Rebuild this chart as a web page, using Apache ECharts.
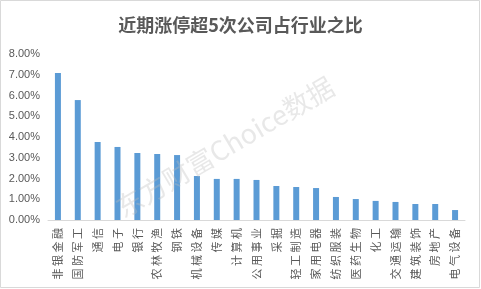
<!DOCTYPE html>
<html><head><meta charset="utf-8">
<script src="https://cdn.jsdelivr.net/npm/echarts@6/dist/echarts.min.js"></script>
<style>html,body{margin:0;padding:0;background:#fff}#c{width:481px;height:289px}</style>
</head><body><div id="c"></div>
<script>
const titleText = '近期涨停超5次公司占行业之比';
const categories = ['非银金融','国防军工','通信','电子','银行','农林牧渔','钢铁','机械设备','传媒','计算机','公用事业','采掘','轻工制造','家用电器','纺织服装','医药生物','化工','交通运输','建筑装饰','房地产','电气设备'];
const values = [7.08,5.78,3.76,3.52,3.23,3.18,3.13,2.12,1.98,1.98,1.93,1.64,1.59,1.54,1.11,1.01,0.92,0.87,0.77,0.77,0.48];
const yTicks = [0,1,2,3,4,5,6,7,8];
const watermark = '东方财富Choice数据';

const chart = echarts.init(document.getElementById('c'));
chart.setOption({
  animation:false,
  backgroundColor:'#fff',
  title:{text:titleText,left:'center',top:11,textStyle:{fontFamily:'Noto Sans CJK SC',fontSize:18,fontWeight:'bold',color:'#595959'}},
  grid:{left:48,right:16,top:54,bottom:69},
  xAxis:{type:'category',data:categories,
    axisLine:{lineStyle:{color:'#d9d9d9'}},axisTick:{show:false},
    axisLabel:{interval:0,rotate:90,margin:8,fontSize:11,color:'#595959',fontFamily:'Noto Sans CJK SC',
      formatter:v=>v.split('').join(' ')}},
  yAxis:{type:'value',min:0,max:8,interval:1,
    axisLine:{show:false},axisTick:{show:false},splitLine:{show:false},
    axisLabel:{formatter:v=>v.toFixed(2)+'%',fontSize:11,color:'#595959',margin:8,fontFamily:'Liberation Sans'}},
  series:[{type:'bar',data:values,barWidth:6,itemStyle:{color:'#5b9bd5'}}],
  graphic:[
    {type:'rect',shape:{x:0.5,y:0.5,width:479,height:287},style:{fill:null,stroke:'#d9d9d9',lineWidth:1},silent:true},
    {type:'text',x:225,y:147,rotation:30.5*Math.PI/180,z:10,
      style:{text:watermark,fontSize:27,fontFamily:'Noto Sans CJK SC',fill:'rgba(190,190,190,0.35)',align:'center',verticalAlign:'middle'}}
  ]
});
</script></body></html>
